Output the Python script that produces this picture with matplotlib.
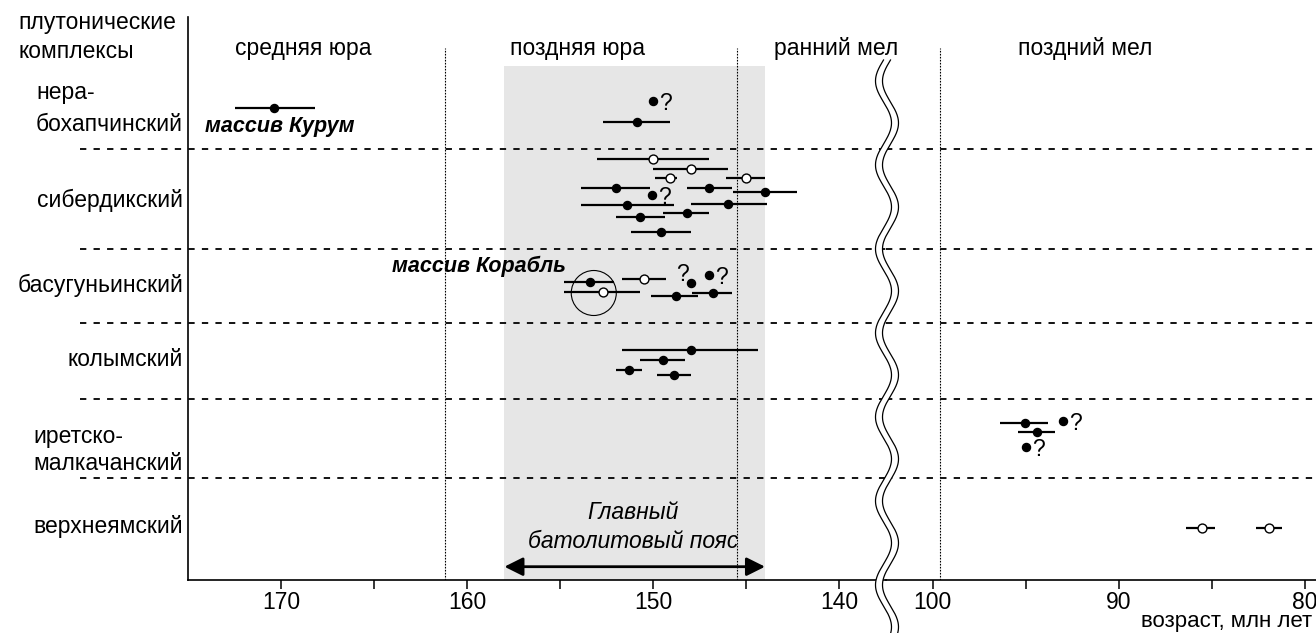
import numpy as np
import matplotlib
matplotlib.use('Agg')
import matplotlib.pyplot as plt
from matplotlib.lines import Line2D
from matplotlib.patches import Ellipse, Polygon

plt.rcParams['font.family'] = ['Liberation Sans', 'DejaVu Sans']

# plutonic complexes (row labels) and their vertical level
complexes = ['нера-\nбохапчинский', 'сибердикский', 'басугуньинский',
             'колымский', 'иретско-\nмалкачанский', 'верхнеямский']
complex_y = [47.1, 38.0, 29.5, 22.0, 13.0, 5.3]
borders = [43.1, 33.1, 25.7, 18.1, 10.2]

# geological periods and boundaries (Ma)
periods = ['средняя юра', 'поздняя юра', 'ранний мел', 'поздний мел']
period_x = [168.8, 154.1, 140.2, 91.8]
bounds = [161.2, 145.5, 99.6]

# datings: age, older limit, younger limit, level, filled, question mark side
ages = [170.4, 150.0, 150.9,
        150.0, 148.0, 149.1, 145.0, 152.0, 147.0, 150.05, 144.0, 151.4, 146.0, 150.7, 148.2, 149.6,
        153.4, 152.7, 150.5, 148.0, 147.0, 148.8, 146.8,
        148.0, 149.5, 151.3, 148.9,
        95.05, 94.4, 93.0, 95.0,
        85.55, 81.9]
older = [172.5, np.nan, 152.7,
         153.0, 150.0, 149.9, 146.1, 153.9, 148.2, np.nan, 145.7, 153.9, 148.0, 152.0, 149.5, 151.2,
         154.8, 154.8, 151.7, np.nan, np.nan, 150.1, 147.9,
         151.7, 150.7, 152.0, 149.8,
         96.4, 95.4, np.nan, np.nan,
         86.4, 82.6]
younger = [168.2, np.nan, 149.1,
           147.0, 146.0, 148.75, 144.0, 150.2, 145.8, np.nan, 142.3, 148.9, 143.9, 149.4, 147.0, 148.0,
           152.1, 150.7, 149.3, np.nan, np.nan, 147.6, 145.8,
           144.4, 148.3, 150.6, 148.0,
           93.8, 93.4, np.nan, np.nan,
           84.8, 81.2]
levels = [47.2, 47.9, 45.8,
          42.1, 41.1, 40.2, 40.2, 39.2, 39.2, 38.5, 38.8, 37.5, 37.6, 36.3, 36.7, 34.8,
          29.8, 28.8, 30.1, 29.7, 30.5, 28.4, 28.7,
          23.0, 22.0, 21.0, 20.5,
          15.7, 14.8, 15.9, 13.3,
          5.2, 5.2]
filled = [1, 1, 1,
          0, 0, 0, 0, 1, 1, 1, 1, 1, 1, 1, 1, 1,
          1, 0, 0, 1, 1, 1, 1,
          1, 1, 1, 1,
          1, 1, 1, 1,
          0, 0]
qmark = ['', 'r', '',
         '', '', '', '', '', '', 'r', '', '', '', '', '', '',
         '', '', '', 'l', 'r', '', '',
         '', '', '', '',
         '', '', 'r', 'r',
         '', '']

belt = (158.0, 144.0)

W, H = 1316, 633
fig = plt.figure(figsize=(W / 100, H / 100), dpi=100)
x0, xb, ybot, ytop = 188, 886, 580, 17
axL = fig.add_axes([x0 / W, 1 - ybot / H, (xb - x0) / W, (ybot - ytop) / H])
axR = fig.add_axes([xb / W, 1 - ybot / H, (W - xb) / W, (ybot - ytop) / H], sharey=axL)
axL.set_xlim(175, 137.5)
axR.set_xlim(102.5, 79.4)
axL.set_ylim(0, 56.3)

for ax in (axL, axR):
    for s in ('top', 'right'):
        ax.spines[s].set_visible(False)
    ax.spines['bottom'].set_linewidth(1.2)
    ax.tick_params(axis='x', which='both', length=6.5, width=1.1, pad=1.5, labelsize=16.5)
    ax.patch.set_alpha(0)
axL.spines['left'].set_linewidth(1.2)
axR.spines['left'].set_visible(False)
axL.set_yticks([])
axR.tick_params(axis='y', left=False, labelleft=False)
axL.set_xticks([170, 160, 150, 140])
axL.set_xticks([165, 155, 145], minor=True)
axR.set_xticks([100, 90, 80])
axR.set_xticks([95, 85], minor=True)

# main batholith belt shading
axL.fill_betweenx([0, 51.4], belt[0], belt[1], color='#e6e6e6', lw=0, zorder=0)

# period boundaries
for b in bounds:
    ax = axL if b > 120 else axR
    ax.vlines(b, 0, 53.2, colors='black', lw=0.8, linestyles=(0, (1.5, 1.2)), zorder=1)

# complex borders
for y in borders:
    axL.axhline(y, xmin=-0.155, xmax=1, color='black', lw=1.3, ls=(0, (3.5, 4)), clip_on=False, zorder=1)
    axR.axhline(y, color='black', lw=1.3, ls=(0, (3.5, 4)), zorder=1)

# datings
for a, o, yg, lv, f, q in zip(ages, older, younger, levels, filled, qmark):
    ax = axL if a > 120 else axR
    if not np.isnan(o):
        ax.hlines(lv, yg, o, colors='black', lw=1.6, zorder=2)
    ax.plot(a, lv, 'o', ms=5.8 if f else 6.4, mfc='black' if f else 'white',
            mec='black', mew=1.0, zorder=3)
    if q == 'r':
        ax.annotate('?', (a, lv), xytext=(9, -2), textcoords='offset points',
                    ha='center', va='center', fontsize=16.5)
    elif q == 'l':
        ax.annotate('?', (a, lv), xytext=(-6, 6), textcoords='offset points',
                    ha='center', va='center', fontsize=16.5)

axL.add_patch(Ellipse((153.2, 28.7), 2.42, 4.5, fill=False, ec='black', lw=0.8, zorder=3))

# labels
spacing = [1.5, 1.2, 1.2, 1.2, 1.2, 1.2]
for name, y, ls in zip(complexes, complex_y, spacing):
    axL.text(-0.007, y, name, transform=axL.get_yaxis_transform(), ha='right', va='center',
             multialignment='left', fontsize=16.5, linespacing=ls)
fig.text(18 / W, 1 - 37 / H, 'плутонические\nкомплексы', ha='left', va='center',
         fontsize=16.5, linespacing=1.3)
for name, px in zip(periods, period_x):
    ax = axL if px > 120 else axR
    ax.text(px, 53.1, name, ha='center', va='center', fontsize=16.5, clip_on=False)

axL.text(174.1, 45.3, 'массив Курум', ha='left', va='center', fontsize=15.5,
         fontweight='bold', fontstyle='italic')
axL.text(154.7, 31.4, 'массив Корабль', ha='right', va='center', fontsize=15.5,
         fontweight='bold', fontstyle='italic')
axL.text(151.1, 5.3, 'Главный\nбатолитовый пояс', ha='center', va='center', fontsize=16.5,
         fontstyle='italic', linespacing=1.3)
axL.annotate('', xy=(belt[1], 1.33), xytext=(belt[0], 1.33),
             arrowprops=dict(arrowstyle='<|-|>', color='black', lw=2, mutation_scale=28,
                             shrinkA=0, shrinkB=0))
fig.text(1312 / W, 1 - 622 / H, 'возраст, млн лет', ha='right', va='center', fontsize=16)

# axis break: double wavy line
yy = np.linspace(60, H + 5, 600)
xx = 887 + 8 * np.sin(2 * np.pi * (yy - 60) / 84 + np.pi)
left = np.column_stack([(xx - 3.5) / W, 1 - yy / H])
right = np.column_stack([(xx + 3.5) / W, 1 - yy / H])
fig.add_artist(Polygon(np.vstack([left, right[::-1]]), closed=True, fc='white', ec='none',
                       transform=fig.transFigure, zorder=5))
for line in (left, right):
    fig.add_artist(Line2D(line[:, 0], line[:, 1], color='black', lw=0.9,
                          transform=fig.transFigure, zorder=6))

fig.savefig('out.png', dpi=100)
